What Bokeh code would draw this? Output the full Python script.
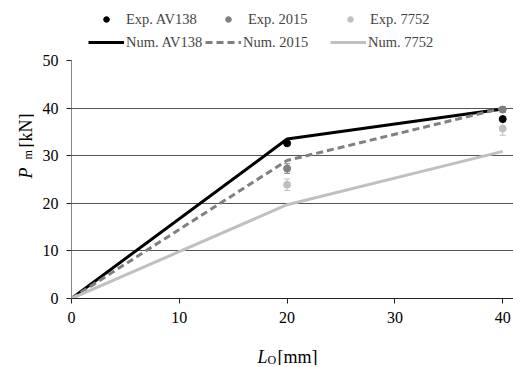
import math
from bokeh.plotting import figure
from bokeh.layouts import column, row
from bokeh.models import (ColumnDataSource, Legend, LegendItem, Label, Whisker,
                          FixedTicker, TeeHead)
from bokeh.embed import file_html
from bokeh.resources import INLINE

# ---- data ----
num_x = [0, 20, 40]
num_av138 = [0, 33.5, 39.8]
num_2015 = [0, 29.0, 40.0]
num_7752 = [0, 19.7, 30.9]

exp_x = [20, 40]
exp_av138 = [32.6, 37.7]
exp_av138_err = [0.3, 0.3]
exp_2015 = [27.3, 39.7]
exp_2015_err = [1.0, 0.6]
exp_7752 = [23.9, 35.7]
exp_7752_err = [1.2, 1.4]

x_ticks = [0, 10, 20, 30, 40]
y_ticks = [0, 10, 20, 30, 40, 50]

BLACK = "#000000"
GRAY = "#808080"
LIGHT = "#c0c0c0"
FONT = "Liberation Serif"
DASH = "7 4"


def blank(width, height, xr=(0, 1), yr=(0, 1)):
    f = figure(width=width, height=height, x_range=xr, y_range=yr,
               x_axis_type=None, y_axis_type=None, output_backend="svg",
               toolbar_location=None, min_border=0)
    f.outline_line_color = None
    f.background_fill_color = None
    f.border_fill_color = None
    return f


def lab(f, x, y, text, size, style="normal", angle=0.0):
    f.add_layout(Label(x=x, y=y, x_units="screen", y_units="screen", text=text,
                       text_font=FONT, text_font_size=size, text_font_style=style,
                       text_color="black", angle=angle, text_align="left",
                       text_baseline="alphabetic"))


# ---------------- main plot ----------------
p = figure(width=479, height=288, x_range=(0, 41), y_range=(0, 50),
           output_backend="svg", toolbar_location=None,
           min_border_left=37, min_border_right=0, min_border_top=8,
           min_border_bottom=42)
p.outline_line_color = None
p.background_fill_color = None
p.border_fill_color = None

p.xgrid.grid_line_color = None
p.ygrid.ticker = FixedTicker(ticks=y_ticks)
p.ygrid.grid_line_color = "#555555"
p.ygrid.grid_line_width = 1

p.xaxis.ticker = FixedTicker(ticks=x_ticks)
p.yaxis.ticker = FixedTicker(ticks=y_ticks)
for ax in (p.xaxis, p.yaxis):
    ax.major_label_text_font = FONT
    ax.major_label_text_font_size = "16px"
    ax.major_label_text_color = "black"
    ax.minor_tick_line_color = None
    ax.major_tick_in = 0
    ax.major_tick_out = 5
    ax.major_label_standoff = 8
p.xaxis.axis_line_color = "#222222"
p.xaxis.major_tick_line_color = "#222222"
p.yaxis.axis_line_color = "#888888"
p.yaxis.major_tick_line_color = "#222222"

p.line(num_x, num_av138, line_color=BLACK, line_width=3)
p.line(num_x, num_2015, line_color=GRAY, line_width=3, line_dash=DASH)
p.line(num_x, num_7752, line_color=LIGHT, line_width=3)


def exp_series(vals, errs, color):
    src = ColumnDataSource(dict(x=exp_x, y=vals,
                                lo=[v - e for v, e in zip(vals, errs)],
                                hi=[v + e for v, e in zip(vals, errs)]))
    w = Whisker(source=src, base="x", lower="lo", upper="hi",
                line_color=color, line_width=1,
                upper_head=TeeHead(size=6, line_color=color, line_width=1),
                lower_head=TeeHead(size=6, line_color=color, line_width=1))
    p.add_layout(w)
    p.scatter("x", "y", source=src, size=7, color=color)


exp_series(exp_7752, exp_7752_err, LIGHT)
exp_series(exp_2015, exp_2015_err, GRAY)
exp_series(exp_av138, exp_av138_err, BLACK)

# ---------------- legend strip ----------------
# the strip's own ranges keep its copies of the series out of view;
# they only supply the legend glyphs
top = blank(513, 52, xr=(-2, -1), yr=(-2, -1))
lr_e1 = top.scatter(exp_x, exp_av138, size=7, color=BLACK)
lr_e2 = top.scatter(exp_x, exp_2015, size=7, color=GRAY)
lr_e3 = top.scatter(exp_x, exp_7752, size=7, color=LIGHT)
lr_n1 = top.line(num_x, num_av138, line_color=BLACK, line_width=3)
lr_n2 = top.line(num_x, num_2015, line_color=GRAY, line_width=3, line_dash=DASH)
lr_n3 = top.line(num_x, num_7752, line_color=LIGHT, line_width=3)


def add_legend(label, renderer, x, y):
    lg = Legend(items=[LegendItem(label=label, renderers=[renderer], index=0)],
                location=(x, y))
    lg.border_line_color = None
    lg.background_fill_alpha = 0
    lg.label_text_font = FONT
    lg.label_text_font_size = "14.5px"
    lg.glyph_width = 36
    lg.glyph_height = 14
    lg.label_standoff = 2
    lg.padding = 0
    lg.margin = 0
    lg.label_height = 18
    top.add_layout(lg, "center")


add_legend("Exp. AV138", lr_e1, 88, 24)
add_legend("Exp. 2015", lr_e2, 210, 24)
add_legend("Exp. 7752", lr_e3, 332, 24)
add_legend("Num. AV138", lr_n1, 88, 1)
add_legend("Num. 2015", lr_n2, 205, 1)
add_legend("Num. 7752", lr_n3, 330, 1)

# ---------------- y-axis title ----------------
yl = blank(34, 288)
# frame of this strip is aligned with the main frame (page y 60..298)
lab(yl, 25, 298 - 178, "P", "18px", "italic", math.pi / 2)
lab(yl, 27, 298 - 159, "m", "12px", "normal", math.pi / 2)
lab(yl, 25, 298 - 147, "[kN]", "18px", "normal", math.pi / 2)

# ---------------- x-axis title ----------------
xl = blank(513, 25)
lab(xl, 257, 9, "L", "18px", "italic")
lab(xl, 267, 6, "O", "12px")
lab(xl, 277, 9, "[mm]", "18px")

layout = column(top, row(yl, p), xl)
open("out.html", "w").write(file_html(layout, INLINE))
